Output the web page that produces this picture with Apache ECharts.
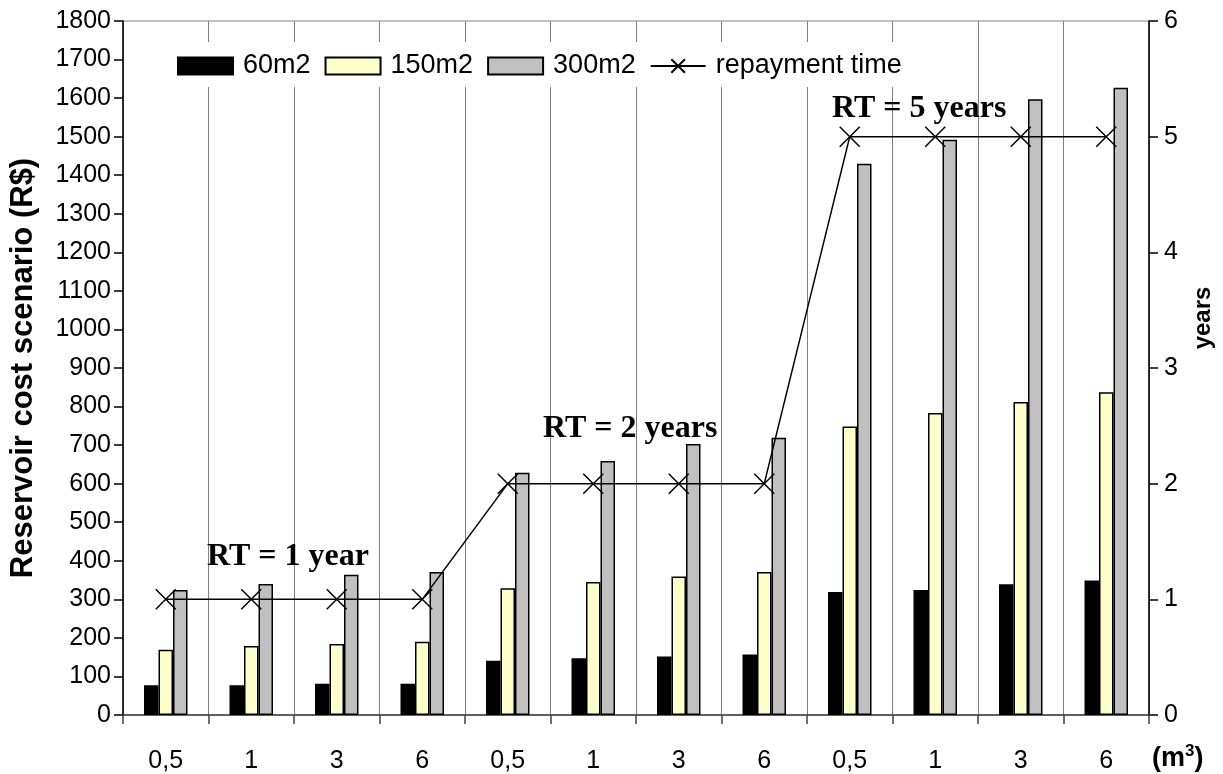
<!DOCTYPE html>
<html>
<head>
<meta charset="utf-8">
<title>Reservoir cost scenario</title>
<script src="https://cdn.jsdelivr.net/npm/echarts@6/dist/echarts.min.js"></script>
<style>
  html, body { margin: 0; padding: 0; background: #ffffff; }
  #chart { width: 1223px; height: 774px; }
</style>
</head>
<body>
<div id="chart"></div>
<script>
// Reservoir volumes (m3) repeated for each repayment-time scenario
const volumes = ['0,5', '1', '3', '6'];
const categories = [].concat(volumes, volumes, volumes);

// Reservoir cost (R$) per roof area
const area60 = [77, 77, 81, 81, 141, 147, 152, 157, 319, 324, 339, 349];
const area150 = [169, 179, 184, 190, 329, 345, 359, 371, 748, 783, 812, 837];
const area300 = [324, 340, 364, 371, 628, 659, 703, 719, 1430, 1492, 1597, 1627];

// Repayment time (years)
const repaymentYears = [1, 1, 1, 1, 2, 2, 2, 2, 5, 5, 5, 5];

const seriesNames = ['60m2', '150m2', '300m2', 'repayment time'];
const scenarioLabels = ['RT = 1 year', 'RT = 2 years', 'RT = 5 years'];

const SANS = '"Liberation Sans", Arial, sans-serif';
const SERIF = '"Liberation Serif", "Times New Roman", serif';
const crossPath = 'path://M0,0L20,20M20,0L0,20';

const chart = echarts.init(document.getElementById('chart'), null, { renderer: 'canvas' });

function barSeries(name, data, color) {
  return {
    name: name,
    type: 'bar',
    data: data,
    barWidth: 14.5,
    barGap: '0%',
    itemStyle: { color: color, borderColor: '#000000', borderWidth: 1.5 },
    z: 2
  };
}

const plainNumber = function (v) { return String(v); };

const option = {
  backgroundColor: '#ffffff',
  animation: false,
  textStyle: { fontFamily: SANS },
  grid: {
    left: 122, right: 74, top: 21, bottom: 57,
    show: true, borderColor: '#808080', borderWidth: 1,
    containLabel: false
  },
  legend: {
    left: 167, top: 42,
    padding: [9, 10, 6, 10],
    backgroundColor: '#ffffff',
    itemWidth: 55, itemHeight: 17, itemGap: 14,
    textStyle: { fontSize: 27, color: '#000000', fontFamily: SANS, padding: [0, 0, 0, 5], lineHeight: 30 },
    data: [
      { name: seriesNames[0], icon: 'rect' },
      { name: seriesNames[1], icon: 'rect' },
      { name: seriesNames[2], icon: 'rect' },
      { name: seriesNames[3] }
    ]
  },
  xAxis: {
    type: 'category',
    data: categories,
    boundaryGap: true,
    axisLine: { show: true, lineStyle: { color: '#404040', width: 1.5 } },
    axisTick: { show: true, length: 9, lineStyle: { color: '#404040', width: 1.5 } },
    axisLabel: { fontSize: 25, color: '#000000', margin: 34, fontFamily: SANS },
    splitLine: { show: true, lineStyle: { color: '#808080', width: 1 } }
  },
  yAxis: [
    {
      type: 'value',
      min: 0, max: 1800, interval: 100,
      name: 'Reservoir cost scenario (R$)',
      nameLocation: 'middle',
      nameGap: 84,
      nameTextStyle: { fontSize: 31, fontWeight: 'bold', color: '#000000', fontFamily: SANS },
      axisLine: { show: true, lineStyle: { color: '#000000', width: 1.5 } },
      axisTick: { show: true, length: 9, lineStyle: { color: '#000000', width: 1.5 } },
      axisLabel: { fontSize: 25, color: '#000000', margin: 12, fontFamily: SANS, formatter: plainNumber },
      splitLine: { show: false }
    },
    {
      type: 'value',
      position: 'right',
      min: 0, max: 6, interval: 1,
      axisLine: { show: true, lineStyle: { color: '#000000', width: 1.5 } },
      axisTick: { show: true, length: 9, lineStyle: { color: '#000000', width: 1.5 } },
      axisLabel: { fontSize: 25, color: '#000000', margin: 15, fontFamily: SANS, formatter: plainNumber },
      splitLine: { show: false }
    }
  ],
  series: [
    barSeries(seriesNames[0], area60, '#000000'),
    barSeries(seriesNames[1], area150, '#FFFFCC'),
    barSeries(seriesNames[2], area300, '#C0C0C0'),
    {
      name: seriesNames[3],
      type: 'line',
      yAxisIndex: 1,
      data: repaymentYears,
      symbol: crossPath,
      symbolSize: 20,
      showAllSymbol: true,
      lineStyle: { color: '#000000', width: 1.5 },
      itemStyle: { color: 'rgba(0,0,0,0)', borderColor: '#000000', borderWidth: 1.5 },
      z: 5
    }
  ],
  graphic: [
    { type: 'text', left: 207, top: 541, z: 10,
      style: { text: scenarioLabels[0], font: 'bold 32px ' + SERIF, fill: '#000000' } },
    { type: 'text', left: 543, top: 413, z: 10,
      style: { text: scenarioLabels[1], font: 'bold 32px ' + SERIF, fill: '#000000' } },
    { type: 'text', left: 832, top: 93, z: 10,
      style: { text: scenarioLabels[2], font: 'bold 32px ' + SERIF, fill: '#000000' } },
    { type: 'text', x: 1203, y: 318, rotation: Math.PI / 2, z: 10,
      style: { text: 'years', font: 'bold 24px ' + SANS, fill: '#000000', align: 'center', verticalAlign: 'middle' } },
    { type: 'text', left: 1152, top: 743, z: 10,
      style: {
        text: '(m{sup|3})',
        font: 'bold 27px ' + SANS, fill: '#000000',
        rich: { sup: { fontSize: 17, fontWeight: 'bold', fontFamily: SANS, padding: [0, 0, 14, 0] } }
      } }
  ]
};

chart.setOption(option);
</script>
</body>
</html>
